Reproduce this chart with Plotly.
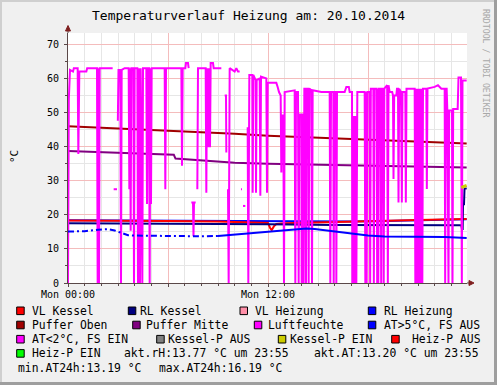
import plotly.graph_objects as go

# ---------------- data (hours since Mon 00:00, °C / %) ----------------
puffer_oben_t = [0, 2, 4, 6, 8, 10, 12, 14, 16, 18, 20, 22, 23.92]
puffer_oben_v = [46.0, 45.6, 45.1, 44.8, 44.3, 43.8, 43.2, 42.8, 42.4, 42.0, 41.6, 41.2, 40.9]

puffer_mitte_t = [0, 1, 2, 3, 4, 5, 6.35, 6.45, 7, 8, 9, 10, 12, 14, 16, 18, 20, 22, 23.92]
puffer_mitte_v = [38.7, 38.5, 38.3, 38.1, 37.9, 37.8, 37.6, 36.5, 36.3, 35.9, 35.6, 35.3, 35.0, 34.8, 34.6, 34.4, 34.2, 34.0, 33.9]

vl_kessel_t = [0, 3, 6, 9, 11, 12.0, 12.12, 12.22, 12.35, 12.5, 13, 15, 17, 19, 21, 23.92]
vl_kessel_v = [18.3, 18.3, 18.2, 18.0, 17.8, 17.6, 16.2, 15.5, 16.6, 17.3, 17.5, 17.8, 18.0, 18.3, 18.5, 18.8]

rl_kessel_t = [0, 6, 12, 16, 20, 23.6, 23.64, 23.68, 23.70, 23.76, 23.79, 23.92]
rl_kessel_v = [17.5, 17.4, 17.2, 17.0, 16.9, 16.9, 15.8, 15.8, 23.1, 23.1, 27.6, 27.8]

rl_heizung_t = [0, 6, 10, 12, 15, 17, 19, 21, 23.92]
rl_heizung_v = [18.4, 18.3, 18.1, 18.0, 18.0, 18.0, 18.2, 18.4, 18.7]

at_t = [0, 1, 1.8, 2.4, 2.8, 3.2, 3.6, 4, 6, 7.5, 8, 9, 10, 11, 11.6, 12, 13, 14, 14.3, 14.8, 16, 17, 18, 19, 22.6, 23.92]
at_v = [15.1, 15.2, 15.6, 15.8, 15.4, 14.6, 14.0, 13.9, 13.8, 13.6, 13.7, 13.8, 14.2, 14.7, 15.0, 15.2, 15.5, 15.8, 16.0, 15.8, 15.1, 14.4, 13.9, 13.6, 13.5, 13.2]

kessel_p_ein_t = [23.6, 23.92]
kessel_p_ein_v = [28.0, 28.6]

hum_t = [0.00, 0.05, 0.12, 0.30, 0.35, 0.58, 0.62, 0.68, 1.10, 1.15, 1.74, 1.78, 1.82, 1.86, 1.90, 2.68, None,
         2.74, 2.94, None,
         2.99, 3.03, 3.14, 3.18, 3.22, 3.40, 3.64, 3.68, 3.72, 3.76, 3.80, 3.92, 3.96, 4.00, 4.16, 4.20,
         4.24, 4.32, 4.36, 4.46, 4.50, 4.70, 4.74, 4.78, 4.86, 4.90, 4.94, 4.98, 5.02, 5.80, 5.84,
         5.88, 6.80, 6.84, 6.88, 7.04, 7.08, 7.20, 7.24, None,
         7.40, 7.50, 7.53, 7.56, 7.66, None,
         7.76, 7.80, 8.26, 8.30, 8.34, 8.42, 8.46, 8.52, 8.56, 8.70, 8.74, 9.20, None,
         9.40, 9.48, 9.50, None,
         9.60, 9.64, 9.70, 10.0, 10.1, 10.2, 10.30, None,
         10.38, 10.44, None,
         10.50, 10.64, None,
         10.78, 10.82, 10.88, 11.06, 11.08, 11.12, 11.26, 11.28, 11.32, 11.50, 11.54, 11.58, 11.90, 11.94, 11.98,
         12.50, 12.58, 12.66, 12.76, 12.80, 12.84, 12.92, 12.96, 13.00, 13.60, 13.64, 13.68, 13.80, 13.84, 13.88,
         14.00, 14.02, 14.06, 14.12, 14.14, 14.18, 14.26, 14.28, 14.32, 14.42, 14.44, 14.48, 14.60, 14.64, 14.68,
         15.20, 15.70, 15.74, 15.78, 15.92, 15.94, 15.98, 16.08, 16.10, 16.14, 16.60, 16.70, 16.85, 16.90, 17.04,
         17.06, 17.10, 17.14, 17.18, 17.22, 17.26, 17.30, 17.36, 17.80, 17.84, 17.88, 17.92, 17.96, 18.10, 18.13,
         18.17, 18.32, 18.35, 18.39, 18.52, 18.55, 18.59, 18.62, 18.66, 18.76, 18.79, 18.83, 18.91, 18.94, 18.98,
         19.15, 19.19, 19.23, 19.30, 19.45, 19.50, 19.53, 19.57, 19.70, 19.74, 19.80, 19.83, 19.87, 19.98, 20.03,
         20.07, 20.24, 20.27, 20.31, 20.80, 20.84, 20.88, 20.92, 20.96, 21.00, 21.04, 21.08, 21.12, 21.16, 21.20,
         21.26, 21.30, 21.50, 21.53, 21.57, 22.00, 22.20, 22.40, 22.60, 22.63, 22.67, 22.72, 22.76, 22.83, 22.87,
         23.04, 23.07, 23.11, 23.38, 23.43, 23.58, 23.63, 23.67, 23.92]
hum_v = [0, 54, 62.5, 62, 63, 63, 37.8, 62, 62, 63, 63, 0, 63, 0, 63, 63, None,
         27.5, 27.5, None,
         47.6, 62.5, 62.5, 0, 62.5, 63, 63, 27.5, 63, 15.3, 63, 63, 0, 63, 63, 0,
         63, 0, 63, 0, 63, 63, 23.2, 63, 63, 0, 63, 23.2, 63, 63, 27.5,
         63, 63, 34.4, 63, 63, 64.5, 64.5, 63, None,
         23.6, 23.6, 13.8, 23.6, 23.6, None,
         27.5, 63, 63, 26.5, 63, 39.8, 63, 39.8, 64.5, 64.5, 63, 63, None,
         55, 55, 38.3, None,
         27.5, 0, 63, 62, 63, 62, 62, None,
         27.5, 27.5, None,
         22.6, 22.6, None,
         45.7, 0, 61, 61, 26.5, 61, 59.5, 26.5, 59.5, 60, 25.6, 60.5, 60, 26.5, 58.7,
         58.7, 57.5, 56, 55, 32.4, 49.1, 49.1, 0, 56, 56.5, 0, 56, 56, 0, 49.4,
         49.4, 0, 49.4, 49.4, 0, 57, 57, 0, 57, 57, 0, 57, 56.5, 0, 56.5,
         56, 56, 0, 56, 56, 0, 56, 56, 0, 56, 56, 57.5, 57.5, 56, 56,
         0, 49, 0, 49, 0, 49, 0, 56, 56, 0, 56, 0, 56, 56, 0,
         57, 57, 0, 57, 57, 0, 57, 0, 57, 57, 0, 57, 57, 0, 57,
         58, 0, 58, 56, 56, 55, 30.5, 55, 55, 57, 57, 23.6, 57, 56, 23.6,
         56, 56, 23.6, 57, 57, 0, 57, 0, 57, 0, 57, 0, 57, 0, 57,
         0, 57, 57, 27.6, 57, 57.5, 58, 57, 57, 0, 57, 57, 50.6, 0, 50.6,
         50.6, 0, 51, 51, 60.3, 60.3, 0, 59.4, 59.4]

x_tick_vals = [0, 6, 12, 18]
x_tick_text = ["Mon 00:00", "", "Mon 12:00", ""]
y_tick_vals = [0, 10, 20, 30, 40, 50, 60, 70]

title_text = "Temperaturverlauf Heizung am: 20.10.2014"
legend_labels = ["VL Kessel", "RL Kessel", "VL Heizung", "RL Heizung",
                 "Puffer Oben", "Puffer Mitte", "Luftfeuchte", "AT>5°C, FS AUS",
                 "AT<2°C, FS EIN", "Kessel-P AUS", "Kessel-P EIN", "Heiz-P AUS",
                 "Heiz-P EIN"]
legend_colors = ["#FF0000", "#000080", "#FF8FA8", "#0000FF",
                 "#A00000", "#800080", "#FF00FF", "#0000FF",
                 "#FF00FF", "#808080", "#CCCC00", "#FF0000",
                 "#00FF00"]
akt_rh_text = "akt.rH:13.77 °C um 23:55"
akt_at_text = "akt.AT:13.20 °C um 23:55"
min_at_text = "min.AT24h:13.19 °C"
max_at_text = "max.AT24h:16.19 °C"

# ---------------- layout constants (pixels) ----------------
W, H = 497, 385
ML, MR, MT, MB = 68, 30, 33, 102
PW, PH = W - ML - MR, H - MT - MB
FONT = "DejaVu Sans Mono"
MAJOR = "#F4BCBC"
MINOR = "#E6E6E6"
AXIS = "#5a4848"
ARROW = "#7F1F1F"

def ax(px):
    return (px - ML) / PW

def ay(py):
    return (MT + PH - py) / PH

fig = go.Figure()

def line(t, v, color, width=2, dash=None):
    fig.add_trace(go.Scatter(x=t, y=v, mode="lines", connectgaps=False,
                             line=dict(color=color, width=width, dash=dash),
                             hoverinfo="skip"))

line(rl_heizung_t, rl_heizung_v, "#0000FF")
line(vl_kessel_t, vl_kessel_v, "#FF0000")
line(rl_kessel_t, rl_kessel_v, "#000080")
line(puffer_oben_t, puffer_oben_v, "#A00000")
line(puffer_mitte_t, puffer_mitte_v, "#800080")
line(hum_t, hum_v, "#FF00FF")
split = at_t.index(9)
line(at_t[:split + 1], at_v[:split + 1], "#0000FF", dash="6px,3px,2px,3px")
line(at_t[split:], at_v[split:], "#0000FF")
line(kessel_p_ein_t, kessel_p_ein_v, "#CCCC00", width=3)

x_max = PW / (400 / 24)
y_max = PH / 3.41

fig.update_layout(
    width=W, height=H, margin=dict(l=ML, r=MR, t=MT, b=MB),
    paper_bgcolor="#F0F0F0", plot_bgcolor="#FFFFFF", showlegend=False,
    font=dict(family=FONT, size=10, color="black"),
    xaxis=dict(range=[0, x_max], tickmode="array", tickvals=x_tick_vals, ticktext=x_tick_text,
               showgrid=True, gridcolor=MAJOR, gridwidth=1, zeroline=False,
               showline=True, linecolor=AXIS, linewidth=1,
               ticks="outside", ticklen=3, tickcolor=AXIS, tickfont=dict(size=10),
               ticklabelstandoff=-1,
               minor=dict(tickmode="linear", tick0=0, dtick=1, showgrid=True, gridcolor=MINOR,
                          ticks="outside", ticklen=2, tickcolor=AXIS)),
    yaxis=dict(range=[0, y_max], tickmode="array", tickvals=y_tick_vals,
               showgrid=True, gridcolor=MAJOR, gridwidth=1, zeroline=False,
               showline=True, linecolor=AXIS, linewidth=1,
               ticks="outside", ticklen=3, tickcolor=AXIS, tickfont=dict(size=10),
               ticklabelstandoff=3,
               minor=dict(tickmode="linear", tick0=0, dtick=5, showgrid=True, gridcolor=MINOR,
                          ticks="outside", ticklen=2, tickcolor=AXIS)),
)

ann = []
shapes = []

def text(px, py, s, size=11.4, anchor="left", angle=0, color="black"):
    ann.append(dict(x=ax(px), y=ay(py), xref="paper", yref="paper", text=s, showarrow=False,
                    xanchor=anchor, yanchor="middle", textangle=angle,
                    font=dict(family=FONT, size=size, color=color)))

# title, unit, watermark
text(248, 16, title_text, size=13, anchor="center")
text(14, 157, "°C", size=11, anchor="center", angle=-90)
text(486, 63, "RRDTOOL / TOBI OETIKER", size=8.2, anchor="center", angle=90, color="#A8A8A8")

# legend
row_y = [310.8, 325, 339.2, 353.4]
box_x = [[16.7, 128.3, 240, 368.3], [16.7, 132.7, 254.3, 368.3],
         [16.7, 156.7, 278.3, 391.7], [16.7]]
lab_x = [[30.7, 139.3, 254, 382.7], [30.7, 145, 267.3, 382.7],
         [30.7, 166.7, 288.7, 410.7], [30.7]]
k = 0
for r, yy in enumerate(row_y):
    for bx, tx in zip(box_x[r], lab_x[r]):
        shapes.append(dict(type="rect", xref="paper", yref="paper",
                           x0=ax(bx), x1=ax(bx + 7.5), y0=ay(yy + 3.8), y1=ay(yy - 3.8),
                           fillcolor=legend_colors[k], line=dict(color="#000000", width=1)))
        text(tx - 1, yy, legend_labels[k])
        k += 1
text(121.7, 353.4, akt_rh_text)
text(311.7, 353.4, akt_at_text)
text(15.7, 367.6, min_at_text)
text(157.3, 367.6, max_at_text)

# axis arrows and extensions
shapes.append(dict(type="line", xref="paper", yref="paper", x0=ax(ML), x1=ax(ML), y0=ay(MT), y1=ay(29),
                   line=dict(color=AXIS, width=1)))
shapes.append(dict(type="path", xref="paper", yref="paper",
                   path=f"M {ax(ML-2.5)},{ay(31)} L {ax(ML+2.5)},{ay(31)} L {ax(ML)},{ay(25.5)} Z",
                   fillcolor=ARROW, line=dict(color=ARROW, width=1)))
shapes.append(dict(type="line", xref="paper", yref="paper", x0=ax(W - MR), x1=ax(470), y0=0, y1=0,
                   line=dict(color=AXIS, width=1)))
shapes.append(dict(type="path", xref="paper", yref="paper",
                   path=f"M {ax(469)},{ay(MT+PH-2.5)} L {ax(469)},{ay(MT+PH+2.5)} L {ax(474)},{ay(MT+PH)} Z",
                   fillcolor=ARROW, line=dict(color=ARROW, width=1)))

# 3D frame
shapes.append(dict(type="line", xref="paper", yref="paper", x0=ax(0), x1=ax(W), y0=ay(1), y1=ay(1),
                   line=dict(color="#CFCFCF", width=2)))
shapes.append(dict(type="line", xref="paper", yref="paper", x0=ax(1), x1=ax(1), y0=ay(0), y1=ay(H),
                   line=dict(color="#CFCFCF", width=2)))
shapes.append(dict(type="line", xref="paper", yref="paper", x0=ax(W - 1.5), x1=ax(W - 1.5), y0=ay(0), y1=ay(H),
                   line=dict(color="#9E9E9E", width=3)))
shapes.append(dict(type="line", xref="paper", yref="paper", x0=ax(0), x1=ax(W), y0=ay(H - 1.5), y1=ay(H - 1.5),
                   line=dict(color="#9E9E9E", width=3)))

fig.update_layout(annotations=ann, shapes=shapes)
fig.write_html("out.html", config={"displayModeBar": False},
               post_script="document.body.style.margin='0';document.body.style.padding='0';"
                           "document.body.style.overflow='hidden';")
